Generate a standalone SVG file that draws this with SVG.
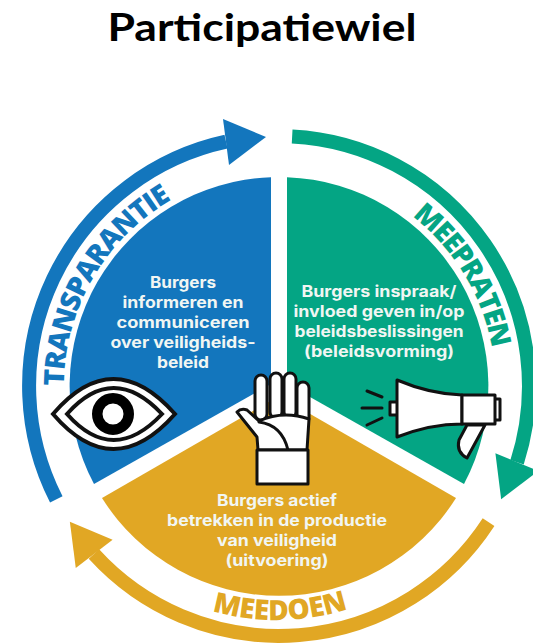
<svg xmlns="http://www.w3.org/2000/svg" width="533" height="643" viewBox="0 0 533 643">
<style>
.t{font-family:"Inter","Liberation Sans",sans-serif;font-weight:700;font-size:16px;text-anchor:middle;fill:#f1f6f3}
.c{font-family:"Open Sans","Liberation Sans",sans-serif;font-weight:800;font-size:28px}
.o{stroke:#111;stroke-width:3;fill:#fff;stroke-linejoin:round}
.l{stroke:#111;stroke-width:3;fill:none;stroke-linecap:round}
</style>
<defs>
<path id="pb" d="M64 386A215 215 0 0 1 168 202"/>
<path id="pg" d="M412 216A216 216 0 0 1 492 348.5"/>
<path id="py" d="M212 611A234 234 0 0 0 348 609"/>
</defs>
<rect width="533" height="643" fill="#fff"/>
<text id="title" x="262" y="41" font-family="Lato,'Liberation Sans',sans-serif" font-weight="700" font-size="38" text-anchor="middle" fill="#000" textLength="309" lengthAdjust="spacingAndGlyphs">Participatiewiel</text>
<g id="connectors" transform="translate(279 386)">
<g id="arrow-transparantie" fill="#1376bd" stroke="none"><path d="M-222.7 113.4A250 250 0 0 1-53-244.3" fill="none" stroke="#1376bd" stroke-width="14"/><path d="M-13-249L-56-267L-50-221Z"/></g>
<g id="arrow-meepraten" fill="#04a584" transform="rotate(120)"><path d="M-222.7 113.4A250 250 0 0 1-53-244.3" fill="none" stroke="#04a584" stroke-width="14"/><path d="M-13-249L-56-267L-50-221Z"/></g>
<g id="arrow-meedoen" fill="#e1a724" transform="rotate(240)"><path d="M-222.7 113.4A250 250 0 0 1-53-244.3" fill="none" stroke="#e1a724" stroke-width="14"/><path d="M-13-249L-56-267L-50-221Z"/></g>
</g>
<g id="node-transparantie">
<path d="M271 177.2V384L94 484A209 209 0 0 1 271 177.2Z" fill="#1376bd"/>
<text class="c" fill="#1376bd"><textPath href="#pb" textLength="225">TRANSPARANTIE</textPath></text>
<text class="t" x="183" y="288" textLength="66" lengthAdjust="spacingAndGlyphs">Burgers</text>
<text class="t" x="183" y="308" textLength="121" lengthAdjust="spacingAndGlyphs">informeren en</text>
<text class="t" x="183" y="328" textLength="133" lengthAdjust="spacingAndGlyphs">communiceren</text>
<text class="t" x="183" y="348" textLength="145" lengthAdjust="spacingAndGlyphs">over veiligheids-</text>
<text class="t" x="183" y="368" textLength="52" lengthAdjust="spacingAndGlyphs">beleid</text>
<path d="M53 414Q113 344 175 414Q113 484 53 414Z" fill="#fff" stroke="#111" stroke-width="4"/>
<path d="M67 414Q113 362 162 414Q113 466 67 414Z" fill="#fff" stroke="#111" stroke-width="4"/>
<circle cx="113" cy="414" r="15.75" fill="#fff" stroke="#000" stroke-width="10.5"/>
</g>
<g id="node-meepraten">
<path d="M287 177.2V384L464 484A209 209 0 0 0 287 177.2Z" fill="#04a584"/>
<text class="c" fill="#04a584"><textPath href="#pg" textLength="158">MEEPRATEN</textPath></text>
<text class="t" x="379" y="297" textLength="155" lengthAdjust="spacingAndGlyphs">Burgers inspraak/</text>
<text class="t" x="379" y="317" textLength="171" lengthAdjust="spacingAndGlyphs">invloed geven in/op</text>
<text class="t" x="379" y="337" textLength="169" lengthAdjust="spacingAndGlyphs">beleidsbeslissingen</text>
<text class="t" x="379" y="357" textLength="150" lengthAdjust="spacingAndGlyphs">(beleidsvorming)</text>
<path class="o" d="M467 425H485L467 458Q456 452 459 440Z"/>
<rect class="o" x="390" y="402" width="8" height="13"/>
<rect class="o" x="494" y="399" width="6" height="21"/>
<path class="o" d="M397 380Q430 394 462 395V424Q430 424 397 437Z"/>
<rect class="o" x="462" y="395" width="33" height="29"/>
<path class="l" d="M367 391L382 397M362 408H382M367 425L382 418"/>
</g>
<g id="node-meedoen">
<path d="M279 396L456 498A209 209 0 0 1 102 498Z" fill="#e1a724"/>
<text class="c" fill="#e1a724"><textPath href="#py" textLength="138">MEEDOEN</textPath></text>
<text class="t" x="277" y="506" textLength="120" lengthAdjust="spacingAndGlyphs">Burgers actief</text>
<text class="t" x="277" y="526" textLength="220" lengthAdjust="spacingAndGlyphs">betrekken in de productie</text>
<text class="t" x="277" y="546" textLength="120" lengthAdjust="spacingAndGlyphs">van veiligheid</text>
<text class="t" x="277" y="566" textLength="103" lengthAdjust="spacingAndGlyphs">(uitvoering)</text>
<g id="hand">
<rect class="o" x="255" y="375" width="12" height="45" rx="6"/>
<rect class="o" x="270" y="373" width="12" height="45" rx="6"/>
<rect class="o" x="284" y="373" width="12" height="45" rx="6"/>
<rect class="o" x="297" y="382" width="12" height="42" rx="6"/>
<path class="o" d="M258 450L257 437L237 412Q241 408 247 410L259 421Q283 410 309 419L307 450Z"/>
<path class="l" d="M259 422Q282 425 288 450"/>
<rect class="o" x="257" y="450" width="51" height="34"/>
</g>
</g>
</svg>
